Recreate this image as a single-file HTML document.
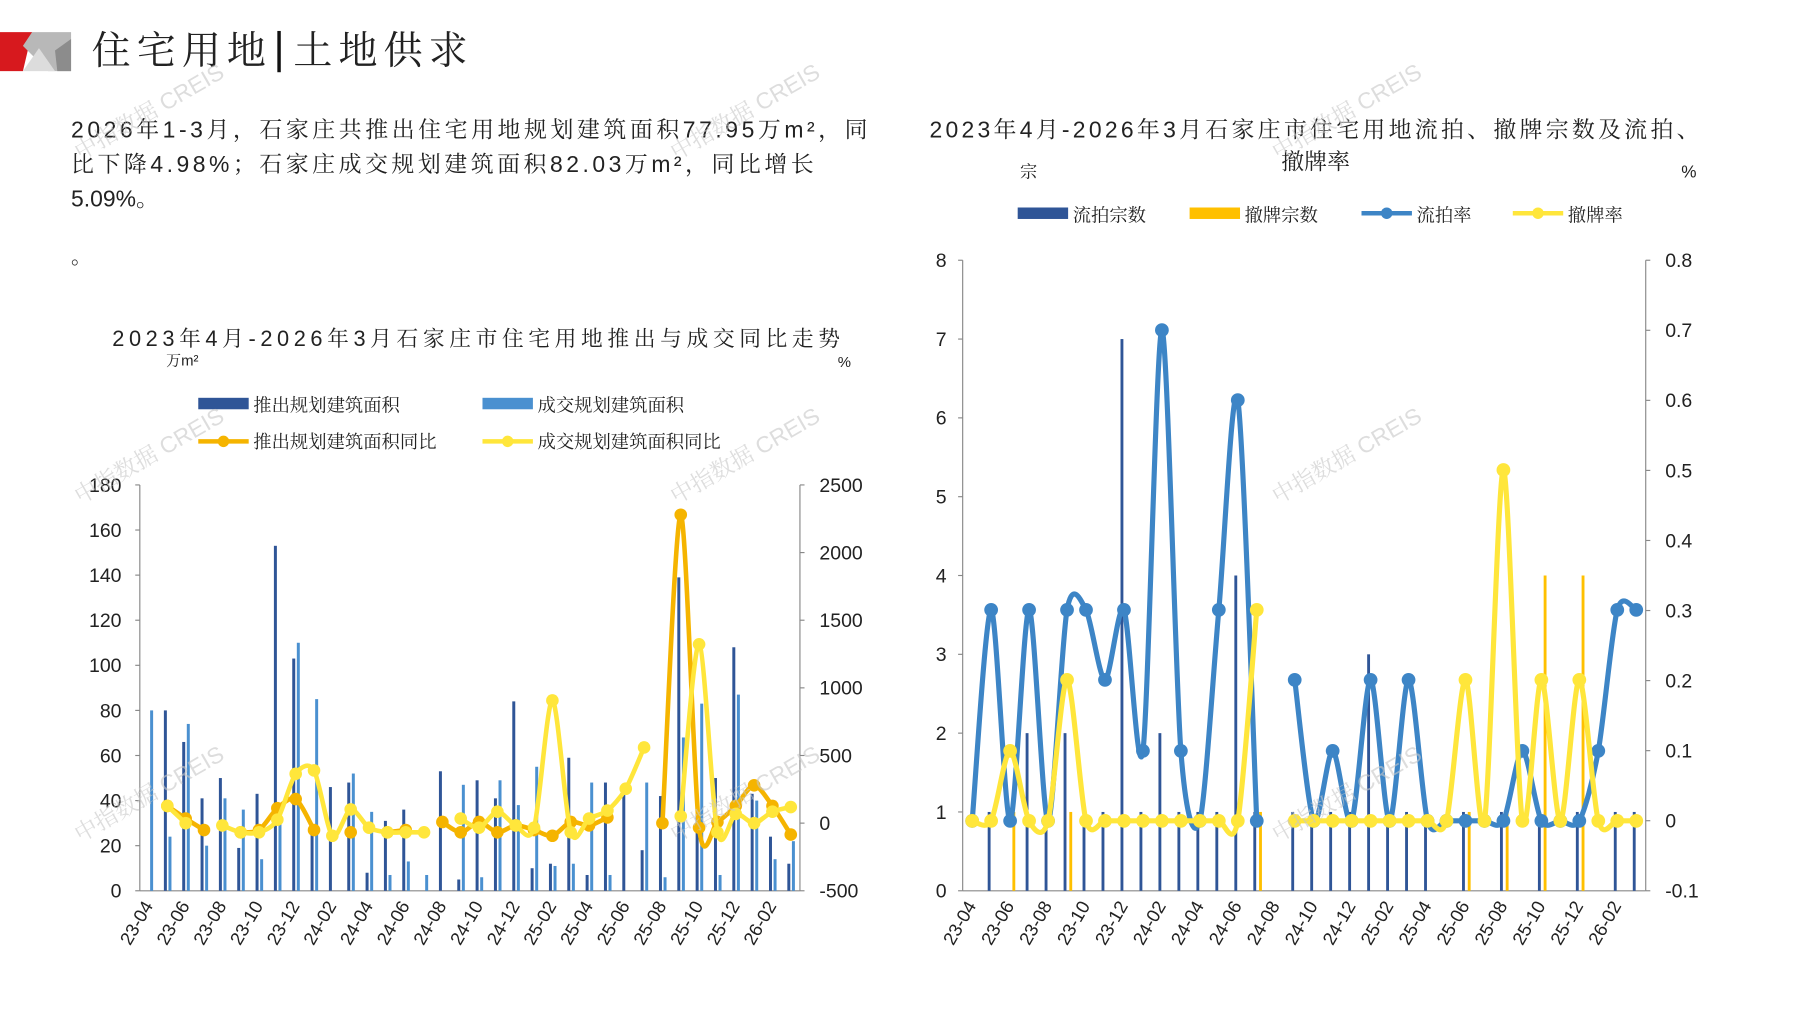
<!DOCTYPE html>
<html><head><meta charset="utf-8"><style>
html,body{margin:0;padding:0;background:#fff;}
svg{display:block;}
text{font-family:"Liberation Sans","Noto Serif CJK SC","Noto Sans CJK SC",sans-serif;fill:#222;}
</style></head><body>
<svg id="s" width="1797" height="1010" viewBox="0 0 1568 881" preserveAspectRatio="none" xmlns="http://www.w3.org/2000/svg">
<rect width="1568" height="881" fill="#fff"/>
<polygon points="0,28 28,28 20,62 0,62" fill="#d7191e"/>
<polygon points="28,28 62,28 62,62 42,62 20,40" fill="#b8b8b8"/>
<polygon points="20,62 34,42 48,62" fill="#dcdcdc"/>
<polygon points="48,44 62,34 62,62 50,62" fill="#8c8c8c"/>
<text x="80" y="56" font-size="34" textLength="152">住宅用地</text>
<rect x="242" y="27" width="3" height="36" fill="#111"/>
<text x="256" y="56" font-size="34" textLength="152">土地供求</text>
<text x="62" y="120" font-size="20" textLength="695">2026年1-3月，石家庄共推出住宅用地规划建筑面积77.95万m²，同</text>
<text x="62" y="150" font-size="20" textLength="648">比下降4.98%；石家庄成交规划建筑面积82.03万m²，同比增长</text>
<text x="62" y="180" font-size="20">5.09%。</text>
<text x="62" y="230" font-size="18">。</text>
<text x="98" y="302" font-size="19" textLength="635">2023年4月-2026年3月石家庄市住宅用地推出与成交同比走势</text>
<text x="145" y="319" font-size="13">万m²</text>
<text x="731" y="320" font-size="13">%</text>
<rect x="173" y="347" width="44" height="10" fill="#2f5597"/>
<text x="221" y="359" font-size="16">推出规划建筑面积</text>
<rect x="421" y="347" width="44" height="10" fill="#4a90d0"/>
<text x="469" y="359" font-size="16">成交规划建筑面积</text>
<line x1="173" y1="385" x2="217" y2="385" stroke="#f5b400" stroke-width="4"/><circle cx="195" cy="385" r="5" fill="#f5b400"/>
<text x="221" y="391" font-size="16">推出规划建筑面积同比</text>
<line x1="421" y1="385" x2="465" y2="385" stroke="#ffe63b" stroke-width="4"/><circle cx="443" cy="385" r="5" fill="#ffe63b"/>
<text x="469" y="391" font-size="16">成交规划建筑面积同比</text>
<text x="811" y="120" font-size="20" textLength="672">2023年4月-2026年3月石家庄市住宅用地流拍、撤牌宗数及流拍、</text>
<text x="1118" y="148" font-size="20">撤牌率</text>
<text x="890" y="155" font-size="15">宗</text>
<text x="1467" y="155" font-size="15">%</text>
<rect x="888" y="181" width="44" height="10" fill="#2f5597"/><text x="936" y="193" font-size="16">流拍宗数</text>
<rect x="1038" y="181" width="44" height="10" fill="#ffc000"/><text x="1086" y="193" font-size="16">撤牌宗数</text>
<line x1="1188" y1="186" x2="1232" y2="186" stroke="#3d85c6" stroke-width="4"/><circle cx="1210" cy="186" r="5" fill="#3d85c6"/><text x="1236" y="193" font-size="16">流拍率</text>
<line x1="1320" y1="186" x2="1364" y2="186" stroke="#ffe63b" stroke-width="4"/><circle cx="1342" cy="186" r="5" fill="#ffe63b"/><text x="1368" y="193" font-size="16">撤牌率</text>
<g id="g"></g>
</svg>
<script>
var g=document.getElementById('g'),h='';
function catm(pts){if(pts.length<2)return '';var d='M'+pts[0][0]+','+pts[0][1];for(var i=0;i<pts.length-1;i++){var p0=pts[i-1]||pts[i],p1=pts[i],p2=pts[i+1],p3=pts[i+2]||p2;d+=' C'+(p1[0]+(p2[0]-p0[0])/7)+','+(p1[1]+(p2[1]-p0[1])/7)+' '+(p2[0]-(p3[0]-p1[0])/7)+','+(p2[1]-(p3[1]-p1[1])/7)+' '+p2[0]+','+p2[1];}return d;}
function series(xs,ys,col,w,r){var seg=[];function flush(){if(seg.length){h+='<path d="'+catm(seg)+'" fill="none" stroke="'+col+'" stroke-width="'+w+'"/>';seg.forEach(function(p){h+='<circle cx="'+p[0]+'" cy="'+p[1]+'" r="'+r+'" fill="'+col+'"/>';});seg=[];}}
for(var i=0;i<ys.length;i++){if(ys[i]==null)flush();else seg.push([xs(i),ys[i]]);}flush();}
var labs=['23-04','23-06','23-08','23-10','23-12','24-02','24-04','24-06','24-08','24-10','24-12','25-02','25-04','25-06','25-08','25-10','25-12','26-02'];
var L0=122,L1=698,T=423,B=777;
h+='<line x1="'+L0+'" y1="'+T+'" x2="'+L0+'" y2="'+B+'" stroke="#888"/><line x1="'+L1+'" y1="'+T+'" x2="'+L1+'" y2="'+B+'" stroke="#888"/><line x1="'+L0+'" y1="'+B+'" x2="'+L1+'" y2="'+B+'" stroke="#888"/>';
for(var v=0;v<=180;v+=20){var y=B-v*(B-T)/180;h+='<text x="106" y="'+(y+6)+'" font-size="17" text-anchor="end">'+v+'</text><line x1="'+(L0-4)+'" y1="'+y+'" x2="'+L0+'" y2="'+y+'" stroke="#888"/>';}
for(var v=-500;v<=2500;v+=500){var y=B-(v+500)*(B-T)/3000;h+='<text x="715" y="'+(y+6)+'" font-size="17">'+v+'</text><line x1="'+L1+'" y1="'+y+'" x2="'+(L1+4)+'" y2="'+y+'" stroke="#888"/>';}
var push=[0,80,66,41,50,19,43,153,103,28,46,48,8,31,36,0,53,5,49,41,84,10,12,59,7,48,43,18,42,139,33,50,108,43,24,12];
var deal=[80,24,74,20,41,36,14,37,110,85,0,52,35,7,13,7,0,47,6,49,38,55,11,12,48,7,0,48,6,68,83,7,87,40,14,22];
var ys=(B-T)/180;
for(var i=0;i<36;i++){var c=L0+16*i+8;
if(push[i])h+='<rect x="'+(c-3)+'" y="'+(B-push[i]*ys)+'" width="2.6" height="'+push[i]*ys+'" fill="#2f5597"/>';
if(deal[i])h+='<rect x="'+(c+1)+'" y="'+(B-deal[i]*ys)+'" width="2.6" height="'+deal[i]*ys+'" fill="#4a90d0"/>';}
var xl=function(i){return L0+16*i+8;};
series(xl,[null,703,714,724,null,726,724,705,697,724,null,726,null,726,724,null,717,726,717,726,720,724,729,717,720,713,null,null,718,449,722,717,703,685,703,728],'#f5b400',4,5.5);
series(xl,[null,703,718,null,720,726,726,715,675,672,729,706,722,726,726,726,null,714,722,708,720,722,611,726,714,707,688,652,null,712,562,726,710,718,708,704],'#ffe63b',4,5.5);
for(var k=0;k<18;k++){var x=xl(2*k);h+='<text transform="translate('+(x+4)+',790) rotate(-60)" font-size="16" text-anchor="end">'+labs[k]+'</text>';}
var R0=840,R1=1436,RT=227,RB=777,cw=(R1-R0)/36;
h+='<line x1="'+R0+'" y1="'+RT+'" x2="'+R0+'" y2="'+RB+'" stroke="#888"/><line x1="'+R1+'" y1="'+RT+'" x2="'+R1+'" y2="'+RB+'" stroke="#888"/><line x1="'+R0+'" y1="'+RB+'" x2="'+R1+'" y2="'+RB+'" stroke="#888"/>';
for(var v=0;v<=8;v++){var y=RB-v*(RB-RT)/8;h+='<text x="826" y="'+(y+6)+'" font-size="17" text-anchor="end">'+v+'</text><line x1="'+(R0-4)+'" y1="'+y+'" x2="'+R0+'" y2="'+y+'" stroke="#888"/>';}
for(var v=-1;v<=8;v++){var y=RB-(v+1)*(RB-RT)/9;var t=v<0?'-0.1':(v==0?'0':'0.'+v);h+='<text x="1453" y="'+(y+6)+'" font-size="17">'+t+'</text><line x1="'+R1+'" y1="'+y+'" x2="'+(R1+4)+'" y2="'+y+'" stroke="#888"/>';}
var lp={1:1,3:2,4:1,5:2,6:1,7:1,8:7,9:1,10:2,11:1,12:1,13:1,14:4,15:1,17:1,18:1,19:1,20:1,21:3,22:1,23:1,24:1,26:1,28:1,30:1,32:1,34:1,35:1};
var cp={2:1,5:1,15:1,26:1,28:1,30:4,32:4};
var uy=(RB-RT)/8;var xr=function(i){return R0+cw*(i+0.5);};
for(var i in lp)h+='<rect x="'+(xr(+i)-3)+'" y="'+(RB-lp[i]*uy)+'" width="2.5" height="'+lp[i]*uy+'" fill="#2f5597"/>';
for(var i in cp)h+='<rect x="'+(xr(+i)+2)+'" y="'+(RB-cp[i]*uy)+'" width="2.5" height="'+cp[i]*uy+'" fill="#ffc000"/>';
series(xr,[716,532,716,532,716,532,532,593,532,655,288,655,716,532,349,716,null,593,716,655,716,593,716,593,716,716,716,716,716,655,716,716,716,655,532,532],'#3d85c6',4.5,6);
series(xr,[716,716,655,716,716,593,716,716,716,716,716,716,716,716,716,532,null,716,716,716,716,716,716,716,716,716,593,716,410,716,593,716,593,716,716,716],'#ffe63b',4.5,6);
for(var k=0;k<18;k++){var x=xr(2*k);h+='<text transform="translate('+(x+4)+',790) rotate(-60)" font-size="16" text-anchor="end">'+labs[k]+'</text>';}
[[70,140],[590,140],[1115,140],[70,440],[590,440],[1115,440],[70,735],[590,735],[1115,735]].forEach(function(p){h+='<text transform="translate('+p[0]+','+p[1]+') rotate(-30)" font-size="20" style="fill:#c8c8c8;opacity:0.6">中指数据 CREIS</text>';});
g.innerHTML=h;
</script>
</body></html>
